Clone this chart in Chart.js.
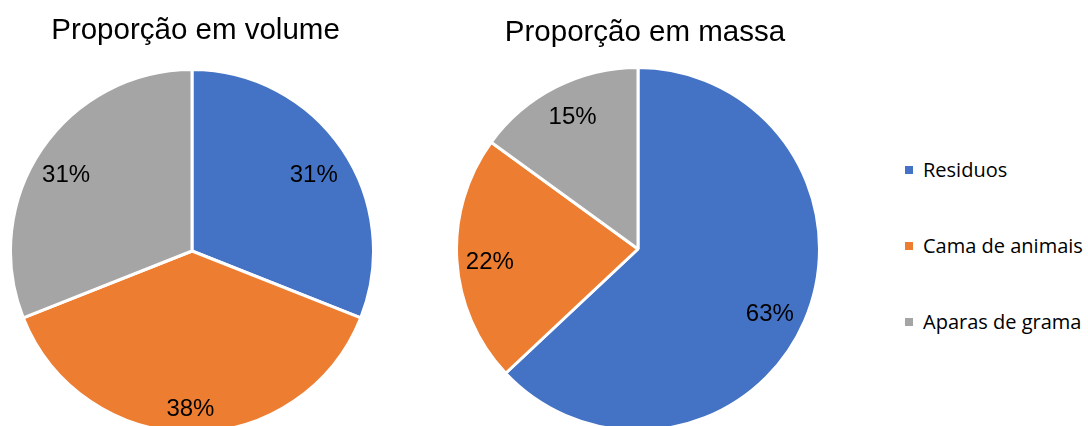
<!DOCTYPE html>
<html>
<head>
<meta charset="utf-8">
<script src="https://cdn.jsdelivr.net/npm/chart.js@4.4.1/dist/chart.umd.min.js"></script>
<style>
  html, body { margin: 0; padding: 0; background: #fff; }
  body { width: 1088px; height: 426px; overflow: hidden; position: relative; }
  .box { position: absolute; }
  #legend { position: absolute; left: 905px; top: 155px; font-family: "Open Sans", "Noto Sans", sans-serif; font-size: 20px; color: #000; }
  .item { display: flex; align-items: center; height: 29px; margin-bottom: 47px; white-space: nowrap; }
  .sw { width: 8px; height: 8px; margin-right: 10px; }
</style>
</head>
<body>
<div class="box" style="left:9px; top:0px; width:366px; height:434px;"><canvas id="volume"></canvas></div>
<div class="box" style="left:455px; top:0px; width:366px; height:432px;"><canvas id="mass"></canvas></div>
<div id="legend"></div>
<script>
const categories = ['Residuos', 'Cama de animais', 'Aparas de grama'];
const volumeValues = [31, 38, 31];
const massValues = [63, 22, 15];
const colors = ['#4472C4', '#ED7D31', '#A5A5A5'];

// chart title, drawn above the pie (slightly off-centre like the original)
const pieTitle = {
  id: 'pieTitle',
  afterDraw(chart, args, opts) {
    const ctx = chart.ctx;
    ctx.save();
    ctx.font = '29.5px "Liberation Sans", Arial, sans-serif';
    ctx.fillStyle = '#000';
    ctx.textAlign = 'center';
    ctx.textBaseline = 'middle';
    ctx.fillText(opts.text, chart.width / 2 + opts.dx, opts.y);
    ctx.restore();
  }
};

// draws the percentage inside each slice
const pctLabels = {
  id: 'pctLabels',
  afterDatasetsDraw(chart, args, opts) {
    const ctx = chart.ctx;
    const meta = chart.getDatasetMeta(0);
    const values = chart.data.datasets[0].data;
    const total = values.reduce((a, b) => a + b, 0);
    ctx.save();
    ctx.font = '24px "Liberation Sans", Arial, sans-serif';
    ctx.fillStyle = '#000';
    ctx.textAlign = 'center';
    ctx.textBaseline = 'middle';
    meta.data.forEach((arc, i) => {
      const p = arc.getProps(['x', 'y', 'startAngle', 'endAngle', 'outerRadius'], true);
      const mid = (p.startAngle + p.endAngle) / 2 + (opts.shift[i] || 0);
      const r = p.outerRadius * (opts.radius[i] || 0.8);
      const txt = Math.round(values[i] / total * 100) + '%';
      ctx.fillText(txt, p.x + Math.cos(mid) * r, p.y + Math.sin(mid) * r);
    });
    ctx.restore();
  }
};

function makePie(id, title, values, topPad, titleY, titleDx, labelRadius, labelShift) {
  return new Chart(document.getElementById(id), {
    type: 'pie',
    data: {
      labels: categories,
      datasets: [{
        data: values,
        backgroundColor: colors,
        borderColor: '#ffffff',
        borderWidth: 3
      }]
    },
    options: {
      responsive: true,
      maintainAspectRatio: false,
      animation: false,
      layout: { padding: { top: topPad } },
      plugins: {
        legend: { display: false },
        tooltip: { enabled: false },
        pieTitle: { text: title, y: titleY, dx: titleDx },
        pctLabels: { radius: labelRadius, shift: labelShift }
      }
    },
    plugins: [pieTitle, pctLabels]
  });
}

makePie('volume', 'Proporção em volume', volumeValues, 68, 31, 3.5, [0.79, 0.87, 0.81], [0.04, 0.01, -0.055]);
makePie('mass', 'Proporção em massa', massValues, 66, 33, 7, [0.81, 0.82, 0.81], [0.05, -0.03, 0.01]);

const legend = document.getElementById('legend');
categories.forEach((c, i) => {
  const item = document.createElement('div');
  item.className = 'item';
  const sw = document.createElement('span');
  sw.className = 'sw';
  sw.style.background = colors[i];
  const label = document.createElement('span');
  label.textContent = c;
  item.appendChild(sw);
  item.appendChild(label);
  legend.appendChild(item);
});
</script>
</body>
</html>
